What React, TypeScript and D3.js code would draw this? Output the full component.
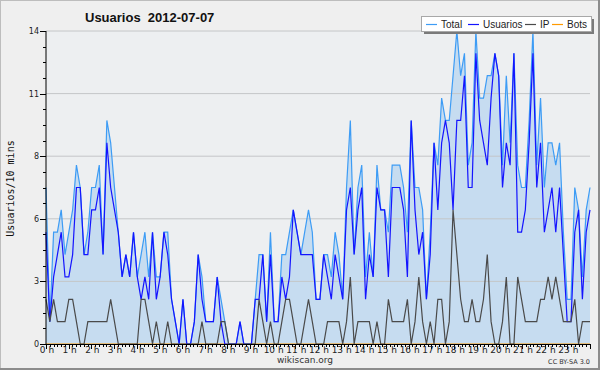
import React from "react";
import * as d3 from "d3";

const title = "Usuarios  2012-07-07";
const yAxisTitle = "Usuarios/10 mins";
const hourLabels = Array.from({ length: 24 }, (_, h) => `${h} h`);
const yTickValues = [0, 2.8, 5.6, 8.4, 11.2, 14];
const legendNames = ["Total", "Usuarios", "IP", "Bots"];

const total = [7,1,5,5,6,4,5,6,8,7, 4,5,7,7,8,4,10,9,7,5, 3,4,3,5,3,4,5,3,5,3, 3,5,5,2,1,0,2,0,0,1, 4,3,1,1,1,3,2,1,0,0, 0,1,0,0,0,2,4,4,1,5, 1,1,4,4,5,6,5,4,5,6, 5,2,2,4,4,3,5,4,2,7, 10,4,7,8,3,5,3,8,6,6, 5,8,8,8,7,5,10,7,7,6, 2,5,9,8,11,10,10,12,14,12, 13,8,9,14,11,11,12,12,13,12, 8,12,9,13,8,7,7,10,14,8, 11,7,9,9,8,9,5,2,2,7, 6,3,6,7];
const usuarios = [5,1,3,4,5,3,3,4,7,7, 4,4,6,6,7,4,9,7,6,5, 3,4,3,5,3,2,3,2,5,2, 3,5,4,2,1,0,2,0,0,1, 4,2,1,1,1,3,1,0,0,0, 0,1,0,0,0,2,2,4,1,4, 1,1,3,2,3,6,5,4,4,4, 4,2,2,4,3,2,4,3,2,6, 7,4,6,7,2,4,3,7,6,6, 3,7,7,7,6,3,10,6,4,5, 2,4,9,6,9,10,9,6,10,10, 12,7,7,13,10,9,8,11,13,12, 7,9,8,13,5,5,6,9,13,7, 9,5,6,7,5,7,4,1,1,5, 6,2,5,6];
const ip = [2,1,2,1,1,1,2,2,1,0, 0,1,1,1,1,1,1,2,1,0, 0,0,0,0,0,2,2,1,0,1, 0,0,1,0,0,0,0,0,0,0, 0,1,0,0,0,0,1,1,0,0, 0,0,0,0,0,0,2,1,0,1, 0,0,1,2,2,1,0,0,1,2, 1,0,0,0,1,1,1,1,0,1, 3,0,1,1,1,1,0,1,0,0, 2,1,1,1,1,2,0,1,3,1, 0,1,0,2,2,0,1,6,4,2, 1,1,2,1,1,2,4,1,0,0, 1,3,0,0,3,2,1,1,1,1, 2,2,3,2,3,2,1,1,1,2, 0,1,1,1];
const bots = total.map(() => 0);

const W = 600, H = 370;
const L = 46, R = 590, T = 31, B = 344;
const C_TOTAL = "#3d9cf5", C_USU = "#1414ff", C_IP = "#4a4a4a", C_BOTS = "#ff9a00";
const FILL = "#c6dcf0";

export default function App() {
  const x = d3.scaleLinear().domain([0, total.length - 1]).range([L, R]);
  const xh = d3.scaleLinear().domain([0, 24]).range([L, R]);
  const y = d3.scaleLinear().domain([0, 14]).range([B, T]);
  const line = (arr: number[]) => d3.line<number>().x((_, i) => x(i)).y((d) => y(d))(arr) || "";
  const area = d3.area<number>().x((_, i) => x(i)).y0(B).y1((d) => y(d))(total) || "";
  const minorY: number[] = [];
  for (let k = 0; k <= 20; k++) minorY.push(k * 0.7);
  const minorX: number[] = [];
  for (let k = 0; k <= 144; k++) minorX.push(k / 6);
  const colors = [C_TOTAL, C_USU, C_IP, C_BOTS];
  const legX = [426, 468, 525, 552];
  return (
    <svg width={W} height={H} style={{ position: "absolute", left: 0, top: 0 }} fontFamily="DejaVu Sans">
      <rect x={0} y={0} width={W} height={H} fill="#efefef" />
      <line x1={0} y1={0.5} x2={W} y2={0.5} stroke="#bdbdbd" />
      <line x1={0.5} y1={0} x2={0.5} y2={H} stroke="#bdbdbd" />
      <rect x={W - 2} y={0} width={2} height={H} fill="#8c8c8c" />
      <rect x={0} y={H - 2} width={W} height={2} fill="#8c8c8c" />
      <rect x={L} y={T} width={R - L} height={B - T} fill="#edeff1" />
      <path d={area} fill={FILL} />
      {yTickValues.slice(1).map((v) => (
        <line key={v} x1={L} x2={R} y1={y(v)} y2={y(v)} stroke="#c4c6c8" strokeWidth={1} />
      ))}
      <path d={line(bots)} fill="none" stroke={C_BOTS} strokeWidth={1.2} />
      <path d={line(total)} fill="none" stroke={C_TOTAL} strokeWidth={1.2} />
      <path d={line(usuarios)} fill="none" stroke={C_USU} strokeWidth={1.2} />
      <path d={line(ip)} fill="none" stroke={C_IP} strokeWidth={1.2} />
      {/* axes */}
      <line x1={L} x2={L} y1={T} y2={B} stroke="#000" />
      <line x1={L} x2={R} y1={B + 0.5} y2={B + 0.5} stroke="#000" />
      {minorY.map((v, k) => (
        <line key={k} x1={L - (k % 4 === 0 ? 6 : 3)} x2={L} y1={Math.round(y(v)) + 0.5} y2={Math.round(y(v)) + 0.5} stroke="#000" />
      ))}
      {yTickValues.map((v) => (
        <text key={v} x={L - 7} y={y(v) + 3} fontSize={8} textAnchor="end" fill="#222">{Math.round(v)}</text>
      ))}
      {minorX.map((v, k) => (
        <line key={k} x1={Math.round(xh(v)) + 0.5} x2={Math.round(xh(v)) + 0.5} y1={B} y2={B + (k % 6 === 0 ? 5 : 3)} stroke="#000" />
      ))}
      {hourLabels.map((lab, h) => (
        <text key={lab} x={xh(h) + 1} y={353} fontSize={9} textAnchor="middle" fill="#222">{lab}</text>
      ))}
      <text x={85} y={22} fontSize={13} fontWeight="bold" fontFamily="Liberation Sans" fill="#111" xmlSpace="preserve">{title}</text>
      <text transform="translate(14,188.5) rotate(-90)" fontSize={10} fontFamily="DejaVu Sans Mono" textAnchor="middle" fill="#111">{yAxisTitle}</text>
      <text x={305} y={363} fontSize={9} textAnchor="middle" fill="#333">wikiscan.org</text>
      <text x={590} y={364} fontSize={6.5} textAnchor="end" fill="#333">CC BY-SA 3.0</text>
      {/* legend */}
      <rect x={424} y={19} width={170} height={15} fill="#7a7a7a" />
      <rect x={421.5} y={16.5} width={170} height={15} fill="#fff" stroke="#a8a8a8" />
      {legendNames.map((n, k) => (
        <g key={n}>
          <line x1={legX[k]} x2={legX[k] + 11} y1={24.5} y2={24.5} stroke={colors[k]} strokeWidth={1.2} />
          <text x={legX[k] + 15} y={28} fontSize={10} fontFamily="Liberation Sans" fill="#222">{n}</text>
        </g>
      ))}
    </svg>
  );
}
